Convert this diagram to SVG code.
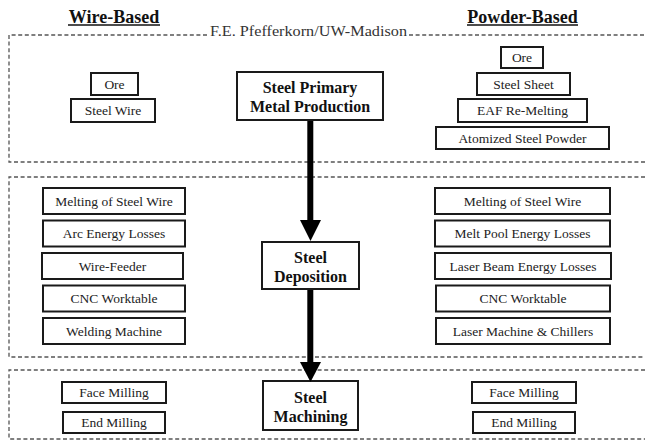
<svg xmlns="http://www.w3.org/2000/svg" width="645" height="441" viewBox="0 0 645 441">
  <style>
    text { font-family: "Liberation Serif", "Times New Roman", serif; }
    .bg { fill: #ffffff; }
    .zone { fill: none; stroke: #555; stroke-width: 1.3; stroke-dasharray: 4 2.6; }
    .box { fill: #ffffff; stroke: #1a1a1a; stroke-width: 2; }
    .main { fill: #ffffff; stroke: #1a1a1a; stroke-width: 2; }
    .t { font-size: 13.5px; fill: #222; text-anchor: middle; }
    .tb { font-size: 16px; font-weight: bold; fill: #111; text-anchor: middle; }
    .head { font-size: 18px; font-weight: bold; fill: #111; text-anchor: middle; }
    .credit { font-size: 15.5px; fill: #333; }
    .uline { stroke: #111; stroke-width: 1.3; }
    .stem { stroke: #000; stroke-width: 6; fill: none; }
    .head-tip { fill: #000; }
  </style>

  <rect class="bg" x="0" y="0" width="645" height="441"/>

  <!-- column headings -->
  <g id="heading-wire">
    <text class="head" x="114" y="22.5">Wire-Based</text>
    <line class="uline" x1="68" y1="25" x2="160" y2="25"/>
  </g>
  <g id="heading-powder">
    <text class="head" x="522.5" y="22.5">Powder-Based</text>
    <line class="uline" x1="467" y1="25" x2="578" y2="25"/>
  </g>
  <text class="credit" x="210" y="35.5" textLength="197" lengthAdjust="spacingAndGlyphs">F.E. Pfefferkorn/UW-Madison</text>

  <!-- dashed stage zones (open on the right) -->
  <g id="zones">
    <path class="zone" d="M207,35 H9 V162 H645"/>
    <path class="zone" d="M409,35 H645"/>
    <path class="zone" d="M645,177 H9 V357 H645"/>
    <path class="zone" d="M645,370 H9 V439 H645"/>
  </g>

  <!-- stage 1: primary production -->
  <g id="wire-ore"><rect class="box" x="91" y="73" width="47" height="22"/><text class="t" x="114.5" y="88.5">Ore</text></g>
  <g id="wire-steel-wire"><rect class="box" x="71" y="99" width="84" height="23"/><text class="t" x="113" y="115">Steel Wire</text></g>

  <g id="primary-production">
    <rect class="main" x="237" y="72" width="146" height="48"/>
    <text class="tb" x="310" y="93">Steel Primary</text>
    <text class="tb" x="310" y="112">Metal Production</text>
  </g>

  <g id="powder-ore"><rect class="box" x="501" y="47" width="42" height="21"/><text class="t" x="522" y="62">Ore</text></g>
  <g id="powder-steel-sheet"><rect class="box" x="477" y="73" width="93" height="22"/><text class="t" x="523.5" y="88.5">Steel Sheet</text></g>
  <g id="powder-eaf"><rect class="box" x="458" y="99" width="129" height="23"/><text class="t" x="522.5" y="115">EAF Re-Melting</text></g>
  <g id="powder-atomized"><rect class="box" x="436" y="127" width="173" height="22"/><text class="t" x="522.5" y="142.5">Atomized Steel Powder</text></g>

  <!-- stage 2: deposition -->
  <g id="wire-melting"><rect class="box" x="43" y="188" width="142" height="26"/><text class="t" x="114" y="205.5">Melting of Steel Wire</text></g>
  <g id="wire-arc-losses"><rect class="box" x="43" y="220.5" width="142" height="26"/><text class="t" x="114" y="238">Arc Energy Losses</text></g>
  <g id="wire-feeder"><rect class="box" x="42" y="253" width="141" height="26"/><text class="t" x="112.5" y="270.5">Wire-Feeder</text></g>
  <g id="wire-cnc"><rect class="box" x="43" y="285.5" width="142" height="26"/><text class="t" x="114" y="303">CNC Worktable</text></g>
  <g id="wire-welding"><rect class="box" x="43" y="318" width="142" height="26"/><text class="t" x="114" y="335.5">Welding Machine</text></g>

  <g id="deposition">
    <rect class="main" x="262" y="242" width="97" height="47"/>
    <text class="tb" x="310.5" y="263">Steel</text>
    <text class="tb" x="310.5" y="282">Deposition</text>
  </g>

  <g id="powder-melting"><rect class="box" x="435" y="188" width="175" height="26"/><text class="t" x="522.5" y="205.5">Melting of Steel Wire</text></g>
  <g id="powder-meltpool"><rect class="box" x="435" y="220.5" width="175" height="26"/><text class="t" x="522.5" y="238">Melt Pool Energy Losses</text></g>
  <g id="powder-laser-losses"><rect class="box" x="435" y="253" width="176" height="26"/><text class="t" x="523" y="270.5">Laser Beam Energy Losses</text></g>
  <g id="powder-cnc"><rect class="box" x="436" y="285.5" width="174" height="26"/><text class="t" x="523" y="303">CNC Worktable</text></g>
  <g id="powder-laser-machine"><rect class="box" x="436" y="318" width="174" height="26"/><text class="t" x="523" y="335.5">Laser Machine &amp; Chillers</text></g>

  <!-- stage 3: machining -->
  <g id="wire-face-milling"><rect class="box" x="62" y="382" width="104" height="21"/><text class="t" x="114" y="397">Face Milling</text></g>
  <g id="wire-end-milling"><rect class="box" x="63" y="412" width="102" height="21"/><text class="t" x="114" y="427">End Milling</text></g>

  <g id="machining">
    <rect class="main" x="263" y="381" width="95" height="49"/>
    <text class="tb" x="310.5" y="403">Steel</text>
    <text class="tb" x="310.5" y="422">Machining</text>
  </g>

  <g id="powder-face-milling"><rect class="box" x="472" y="382" width="104" height="21"/><text class="t" x="524" y="397">Face Milling</text></g>
  <g id="powder-end-milling"><rect class="box" x="473" y="412" width="102" height="21"/><text class="t" x="524" y="427">End Milling</text></g>

  <!-- process flow arrows -->
  <g id="connectors">
    <line class="stem" x1="310.3" y1="121" x2="310.3" y2="222"/>
    <polygon class="head-tip" points="300,220 321,220 310.5,241"/>
    <line class="stem" x1="310.3" y1="290" x2="310.3" y2="364"/>
    <polygon class="head-tip" points="300,362 321,362 310.5,382"/>
  </g>
</svg>
